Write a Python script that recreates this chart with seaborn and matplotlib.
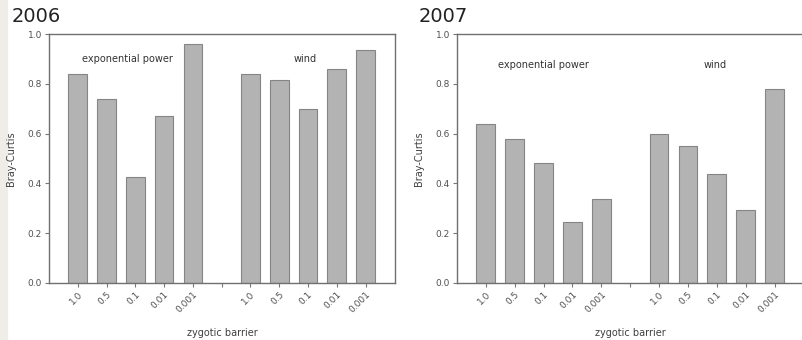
import numpy as np
import pandas as pd
import matplotlib
matplotlib.use("Agg")
import matplotlib.pyplot as plt
import seaborn as sns

barriers = ["1.0", "0.5", "0.1", "0.01", "0.001"]
groups = ["exponential power", "wind"]
years = ["2006", "2007"]

exp_2006 = [0.84, 0.74, 0.425, 0.67, 0.96]
wind_2006 = [0.84, 0.815, 0.70, 0.86, 0.935]
exp_2007 = [0.64, 0.58, 0.48, 0.245, 0.337]
wind_2007 = [0.60, 0.55, 0.437, 0.293, 0.78]

values = {
    "2006": {"exponential power": exp_2006, "wind": wind_2006},
    "2007": {"exponential power": exp_2007, "wind": wind_2007},
}

# category order: five barriers, an empty slot, five barriers
order = [f"{groups[0]} {b}" for b in barriers] + ["gap"] + [f"{groups[1]} {b}" for b in barriers]
tick_labels = barriers + [""] + barriers

rows = []
for yr in years:
    for g in groups:
        for b, v in zip(barriers, values[yr][g]):
            rows.append({"year": yr, "cat": f"{g} {b}", "bc": v})
df = pd.DataFrame(rows)

sns.set_style("white")
fig = plt.figure(figsize=(8.02, 3.4), dpi=100)
fig.patch.set_facecolor("white")
# beige strip at the left edge
fig.patches.append(plt.Rectangle((0, 0), 7 / 802, 1, transform=fig.transFigure,
                                 color="#eeede7", zorder=-5))

positions = {
    "2006": [49 / 802, 57 / 340, 346 / 802, 249 / 340],
    "2007": [457 / 802, 57 / 340, 347 / 802, 249 / 340],
}
title_x = {"2006": 12 / 802, "2007": 419 / 802}
ann = {
    "2006": [(1.72, 0.90), (7.9, 0.90)],
    "2007": [(2.0, 0.875), (7.95, 0.875)],
}

for yr in years:
    ax = fig.add_axes(positions[yr])
    sub = df[df["year"] == yr]
    sns.barplot(data=sub, x="cat", y="bc", order=order, color="#b3b3b3",
                saturation=1, width=0.65, edgecolor="#858585", linewidth=0.8, ax=ax)
    ax.set_xlim(-1, 11.02)
    ax.set_ylim(0, 1.0)
    ax.set_yticks([0.0, 0.2, 0.4, 0.6, 0.8, 1.0])
    ax.set_yticklabels(["0.0", "0.2", "0.4", "0.6", "0.8", "1.0"], fontsize=6.5, color="#505050")
    ax.set_xticks(range(len(order)))
    ax.set_xticklabels(tick_labels, fontsize=6.5, color="#505050", rotation=45,
                       ha="right", rotation_mode="anchor")
    ax.tick_params(axis="both", direction="out", length=3, width=0.8, color="#777777", pad=2)
    ax.tick_params(axis="x", bottom=True)
    ax.tick_params(axis="y", left=True)
    for s in ax.spines.values():
        s.set_color("#707070")
        s.set_linewidth(1.0)
    ax.set_xlabel("zygotic barrier", fontsize=7, color="#404040")
    ax.xaxis.set_label_coords(0.5, -0.18)
    ax.set_ylabel("Bray-Curtis", fontsize=7, color="#404040")
    ax.yaxis.set_label_coords(-0.094, 0.5)
    for (x, y), g in zip(ann[yr], groups):
        ax.text(x, y, g, fontsize=7, color="#333333", ha="center", va="center")
    fig.text(title_x[yr], 0.952, yr, fontsize=14, color="#222222", ha="left", va="center")

fig.savefig("out.png", dpi=100)
